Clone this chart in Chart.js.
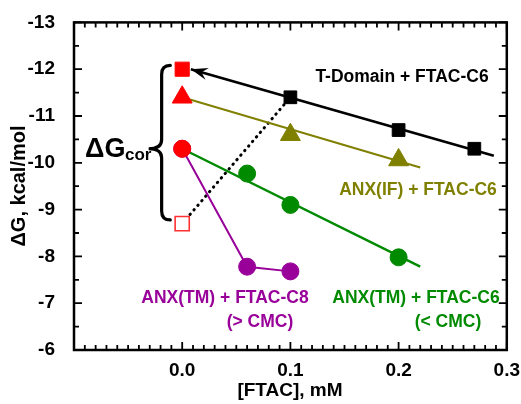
<!DOCTYPE html>
<html>
<head>
<meta charset="utf-8">
<script src="https://cdn.jsdelivr.net/npm/chart.js@4"></script>
<style>
  body { margin: 0; background: #fff; }
</style>
</head>
<body>
<canvas id="chart" width="521" height="404"></canvas>
<script>
// corrected dG values at zero FTAC (red markers)
const corX = [0, 0, 0];
const corY = [-12.0, -11.4, -10.3];
const corStyles = ['rect', 'triangle', 'circle'];
// uncorrected T-domain value (open red square)
const rawX = [0];
const rawY = [-8.7];

// T-Domain + FTAC-C6
const tdomX = [0.1, 0.2, 0.27];
const tdomY = [-11.4, -10.7, -10.3];
const tdomFitX = [0.288, 0.008];
const tdomFitY = [-10.15, -12.0];

// ANX(IF) + FTAC-C6
const ifX = [0.1, 0.2];
const ifY = [-10.6, -10.06];
const ifFitX = [0, 0.22];
const ifFitY = [-11.4, -9.9];

// ANX(TM) + FTAC-C6 (< CMC)
const tm6X = [0.06, 0.1, 0.2];
const tm6Y = [-9.77, -9.1, -7.98];
const tm6FitX = [0, 0.22];
const tm6FitY = [-10.3, -7.78];

// ANX(TM) + FTAC-C8 (> CMC)
const tm8X = [0, 0.06, 0.1];
const tm8Y = [-10.3, -7.78, -7.68];

// dotted link raw -> T-domain
const dotX = [0, 0.1];
const dotY = [-8.7, -11.4];

const RED = '#ff0000';
const OLIVE = '#808000';
const GREEN = '#008a00';
const PURPLE = '#990099';
const FONT = '"Liberation Sans", Arial, sans-serif';

const pts = (xs, ys) => xs.map((x, i) => ({ x: x, y: ys[i] }));

// рамка, засечки, подписи
const decorPlugin = {
  id: 'decor',
  afterDatasetsDraw(chart) {
    const ctx = chart.ctx;
    const xs = chart.scales.x;
    const ys = chart.scales.y;
    const a = chart.chartArea;
    ctx.save();

    // arrow head on the T-domain fit line
    const p0x = xs.getPixelForValue(tdomFitX[0]);
    const p0y = ys.getPixelForValue(tdomFitY[0]);
    const p1x = xs.getPixelForValue(tdomFitX[1]);
    const p1y = ys.getPixelForValue(tdomFitY[1]);
    const len = Math.hypot(p1x - p0x, p1y - p0y);
    const ux = (p1x - p0x) / len, uy = (p1y - p0y) / len;
    const nx = -uy, ny = ux;
    ctx.fillStyle = '#000';
    ctx.beginPath();
    ctx.moveTo(p1x, p1y);
    ctx.lineTo(p1x - 17 * ux + 6 * nx, p1y - 17 * uy + 6 * ny);
    ctx.lineTo(p1x - 11 * ux, p1y - 11 * uy);
    ctx.lineTo(p1x - 17 * ux - 6 * nx, p1y - 17 * uy - 6 * ny);
    ctx.closePath();
    ctx.fill();

    // curly brace for dG_cor
    const bxEnd = xs.getPixelForValue(-0.011);
    const bxSpine = xs.getPixelForValue(-0.019);
    const bxTip = xs.getPixelForValue(-0.031);
    const bTop = ys.getPixelForValue(-12.08);
    const bMid = ys.getPixelForValue(-10.3);
    const bBot = ys.getPixelForValue(-8.78);
    const r = 9;
    ctx.strokeStyle = '#000';
    ctx.lineWidth = 3.2;
    ctx.lineCap = 'round';
    ctx.beginPath();
    ctx.moveTo(bxEnd, bTop);
    ctx.quadraticCurveTo(bxSpine, bTop, bxSpine, bTop + r);
    ctx.lineTo(bxSpine, bMid - r);
    ctx.quadraticCurveTo(bxSpine, bMid, bxTip, bMid);
    ctx.quadraticCurveTo(bxSpine, bMid, bxSpine, bMid + r);
    ctx.lineTo(bxSpine, bBot - r);
    ctx.quadraticCurveTo(bxSpine, bBot, bxEnd, bBot);
    ctx.stroke();

    // frame
    ctx.lineWidth = 2.5;
    ctx.lineCap = 'butt';
    ctx.strokeRect(a.left, a.top, a.right - a.left, a.bottom - a.top);

    // ticks (inward, all four sides)
    ctx.lineWidth = 1.8;
    ctx.beginPath();
    for (let i = -10; i <= 30; i++) {
      const v = i / 100;
      const px = xs.getPixelForValue(v);
      const l = i % 10 === 0 ? 8 : 5;
      ctx.moveTo(px, a.bottom);
      ctx.lineTo(px, a.bottom - l);
      ctx.moveTo(px, a.top);
      ctx.lineTo(px, a.top + l);
    }
    for (let i = -26; i <= -12; i++) {
      const v = i / 2;
      const py = ys.getPixelForValue(v);
      const l = i % 2 === 0 ? 8 : 5;
      ctx.moveTo(a.left, py);
      ctx.lineTo(a.left + l, py);
      ctx.moveTo(a.right, py);
      ctx.lineTo(a.right - l, py);
    }
    ctx.stroke();

    // axis titles
    ctx.fillStyle = '#000';
    ctx.font = 'bold 19px ' + FONT;
    ctx.textAlign = 'center';
    ctx.textBaseline = 'middle';
    ctx.fillText('[FTAC], mM', 290, 391);
    ctx.save();
    ctx.translate(19, 186);
    ctx.rotate(-Math.PI / 2);
    ctx.font = 'bold 20px ' + FONT;
    ctx.fillText('\u0394G, kcal/mol', 0, 0);
    ctx.restore();

    // series labels
    ctx.font = 'bold 17.5px ' + FONT;
    const label = (txt, x, y, color) => {
      ctx.fillStyle = color;
      ctx.fillText(txt, x, y);
    };
    label('T-Domain + FTAC-C6', 402, 77, '#000');
    label('ANX(IF) + FTAC-C6', 418, 190, OLIVE);
    label('ANX(TM) + FTAC-C8', 225, 298, PURPLE);
    label('(> CMC)', 260, 322, PURPLE);
    label('ANX(TM) + FTAC-C6', 416, 298, GREEN);
    label('(< CMC)', 448, 322, GREEN);

    // dG_cor
    ctx.fillStyle = '#000';
    ctx.textAlign = 'left';
    ctx.textBaseline = 'alphabetic';
    ctx.font = 'bold 27px ' + FONT;
    ctx.fillText('\u0394G', 85, 157);
    ctx.font = 'bold 17px ' + FONT;
    ctx.fillText('cor', 125, 160);

    ctx.restore();
  }
};

new Chart(document.getElementById('chart'), {
  type: 'scatter',
  data: {
    datasets: [
      {
        data: pts(tdomFitX, tdomFitY),
        showLine: true, pointRadius: 0,
        borderColor: '#000', borderWidth: 2.6, order: 10,
      },
      {
        data: pts(ifFitX, ifFitY),
        showLine: true, pointRadius: 0,
        borderColor: OLIVE, borderWidth: 2, order: 10,
      },
      {
        data: pts(tm6FitX, tm6FitY),
        showLine: true, pointRadius: 0,
        borderColor: GREEN, borderWidth: 2.4, order: 10,
      },
      {
        data: pts(dotX, dotY),
        showLine: true, pointRadius: 0,
        borderColor: '#000', borderWidth: 3,
        borderDash: [0.5, 5.5], borderCapStyle: 'round', order: 10,
      },
      {
        data: pts(tm8X, tm8Y),
        showLine: true, pointRadius: 8.5, pointStyle: 'circle',
        borderColor: PURPLE, backgroundColor: PURPLE, borderWidth: 2,
        pointBorderWidth: 1, order: 5,
      },
      {
        data: pts(tdomX, tdomY),
        pointStyle: 'rect', pointRadius: 9,
        backgroundColor: '#000', borderColor: '#000', borderWidth: 1, order: 1,
      },
      {
        data: pts(ifX, ifY),
        pointStyle: 'triangle', pointRadius: 11.5,
        backgroundColor: OLIVE, borderColor: OLIVE, borderWidth: 1, order: 1,
      },
      {
        data: pts(tm6X, tm6Y),
        pointStyle: 'circle', pointRadius: 8.5,
        backgroundColor: GREEN, borderColor: GREEN, borderWidth: 1, order: 1,
      },
      {
        data: pts(corX, corY),
        pointStyle: corStyles, pointRadius: [10, 11.5, 8.5],
        backgroundColor: RED, borderColor: RED, borderWidth: 1, order: 0,
      },
      {
        data: pts(rawX, rawY),
        pointStyle: 'rect', pointRadius: 10,
        backgroundColor: '#fff', borderColor: '#ff3030', borderWidth: 1.6, order: 0,
      },
    ],
  },
  options: {
    responsive: false,
    devicePixelRatio: 1,
    animation: false,
    layout: { padding: { top: 20, right: 13, left: 0, bottom: 0 } },
    plugins: {
      legend: { display: false },
      tooltip: { enabled: false },
    },
    scales: {
      x: {
        type: 'linear',
        min: -0.1,
        max: 0.3,
        grid: { display: false },
        border: { display: false },
        afterFit: (s) => { s.height = 54; },
        ticks: {
          stepSize: 0.1,
          padding: 1,
          color: '#000',
          font: { family: FONT, size: 19, weight: 'bold' },
          callback: (v) => (v < -0.05 ? '' : Number(v).toFixed(1)),
        },
      },
      y: {
        type: 'linear',
        min: -13,
        max: -6,
        reverse: true,
        grid: { display: false },
        border: { display: false },
        afterFit: (s) => { s.width = 74; },
        ticks: {
          stepSize: 1,
          padding: 11,
          color: '#000',
          font: { family: FONT, size: 19, weight: 'bold' },
          callback: (v) => String(Math.round(v)),
        },
      },
    },
  },
  plugins: [decorPlugin],
});
</script>
</body>
</html>
